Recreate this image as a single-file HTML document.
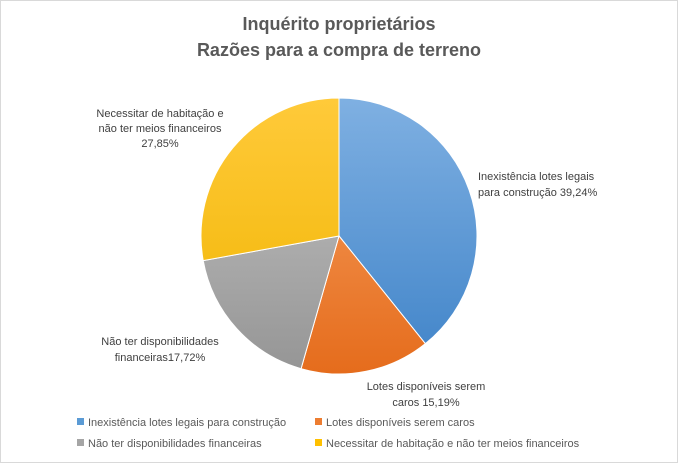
<!DOCTYPE html>
<html><head><meta charset="utf-8"><style>
body{margin:0;background:#fff;font-family:"Liberation Sans",sans-serif}
svg{display:block}
</style></head><body>
<svg width="678" height="463" viewBox="0 0 678 463">
<defs>
<linearGradient id="gb" gradientUnits="userSpaceOnUse" x1="0" y1="98" x2="0" y2="374"><stop offset="0" stop-color="#7fb0e2"/><stop offset="1" stop-color="#3f83c8"/></linearGradient>
<linearGradient id="go" gradientUnits="userSpaceOnUse" x1="0" y1="98" x2="0" y2="374"><stop offset="0" stop-color="#f7a163"/><stop offset="1" stop-color="#e56c1c"/></linearGradient>
<linearGradient id="gg" gradientUnits="userSpaceOnUse" x1="0" y1="98" x2="0" y2="374"><stop offset="0" stop-color="#c4c4c4"/><stop offset="1" stop-color="#959595"/></linearGradient>
<linearGradient id="gy" gradientUnits="userSpaceOnUse" x1="0" y1="98" x2="0" y2="374"><stop offset="0" stop-color="#ffca3a"/><stop offset="1" stop-color="#f0b400"/></linearGradient>
</defs>
<rect x="0.5" y="0.5" width="677" height="462" fill="#fff" stroke="#d9d9d9"/>
<text x="339" y="30" text-anchor="middle" font-size="18" font-weight="bold" fill="#595959">Inquérito proprietários</text>
<text x="339" y="56" text-anchor="middle" font-size="18" font-weight="bold" fill="#595959">Razões para a compra de terreno</text>
<g id="slices"></g>
<g font-size="11" fill="#404040">
<text x="478" y="180">Inexistência lotes legais</text>
<text x="478" y="196">para construção 39,24%</text>
<text x="426" y="390" text-anchor="middle">Lotes disponíveis serem</text>
<text x="426" y="406" text-anchor="middle">caros  15,19%</text>
<text x="160" y="345" text-anchor="middle">Não ter disponibilidades</text>
<text x="160" y="361" text-anchor="middle">financeiras17,72%</text>
<text x="160" y="117" text-anchor="middle">Necessitar de habitação e</text>
<text x="160" y="132" text-anchor="middle">não ter meios financeiros</text>
<text x="160" y="147" text-anchor="middle">27,85%</text>
</g>
<g font-size="11" fill="#595959">
<rect x="77" y="418" width="7" height="7" fill="#5b9bd5"/>
<text x="88" y="426">Inexistência lotes legais para construção</text>
<rect x="315" y="418" width="7" height="7" fill="#ed7d31"/>
<text x="326" y="426">Lotes disponíveis serem caros</text>
<rect x="77" y="439" width="7" height="7" fill="#a5a5a5"/>
<text x="88" y="447">Não ter disponibilidades financeiras</text>
<rect x="315" y="439" width="7" height="7" fill="#ffc000"/>
<text x="326" y="447">Necessitar de habitação e não ter meios financeiros</text>
</g>
</svg>
<script>
const categories=["Inexistência lotes legais para construção","Lotes disponíveis serem caros","Não ter disponibilidades financeiras","Necessitar de habitação e não ter meios financeiros"];
const values=[39.24,15.19,17.72,27.85];
const fills=["url(#gb)","url(#go)","url(#gg)","url(#gy)"];
const names=["slice-inexistencia","slice-lotes","slice-nao-ter","slice-necessitar"];
const cx=339,cy=236,r=138;
const total=values.reduce((a,b)=>a+b,0);
const g=document.getElementById('slices');
let a0=0;
values.forEach((v,i)=>{
  const a1=a0+v/total*2*Math.PI;
  const x0=cx+r*Math.sin(a0),y0=cy-r*Math.cos(a0),x1=cx+r*Math.sin(a1),y1=cy-r*Math.cos(a1);
  const p=document.createElementNS('http://www.w3.org/2000/svg','path');
  p.setAttribute('d',`M${cx},${cy}L${x0},${y0}A${r},${r} 0 ${a1-a0>Math.PI?1:0} 1 ${x1},${y1}Z`);
  p.setAttribute('fill',fills[i]);
  p.setAttribute('stroke','#fff');
  p.setAttribute('stroke-width','1');
  
  
  g.appendChild(p);
  a0=a1;
});
</script>
</body></html>
